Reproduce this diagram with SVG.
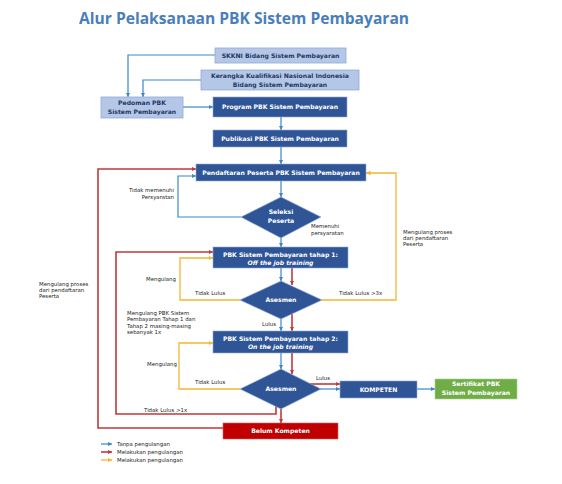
<svg xmlns="http://www.w3.org/2000/svg" width="562" height="484" viewBox="0 0 562 484">
<style>
.title{font-family:"Open Sans","DejaVu Sans",sans-serif;font-weight:bold;font-size:15.6px;fill:#4a7ebb}
.lb{fill:#b4c7e7;stroke:#8faadc;stroke-width:0.8}
.db{fill:#2f5597;stroke:#8faadc;stroke-width:0.6}
.gb{fill:#70ad47;stroke:#a9d18e;stroke-width:0.6}
.rb{fill:#c00000;stroke:#e06060;stroke-width:0.6}
.t{font-family:"DejaVu Sans",Verdana,sans-serif;font-weight:bold;font-size:6.1px;text-anchor:middle}
.tl{fill:#1f3864}
.tw{fill:#ffffff}
.it{font-style:italic}
.s{font-family:"DejaVu Sans",Verdana,sans-serif;font-size:5.4px;fill:#222}
.cb{fill:none;stroke:#3a87c8;stroke-width:1.2}
.cr{fill:none;stroke:#c0393b;stroke-width:1.6}
.cy{fill:none;stroke:#f2b632;stroke-width:1.3}
</style>
<defs>
<marker id="ab" viewBox="0 0 6 6" refX="6" refY="3" markerWidth="4.5" markerHeight="4.5" markerUnits="userSpaceOnUse" orient="auto"><path d="M0,0 L6,3 L0,6 z" fill="#3a87c8"/></marker>
<marker id="ar" viewBox="0 0 6 6" refX="6" refY="3" markerWidth="4.5" markerHeight="4.5" markerUnits="userSpaceOnUse" orient="auto"><path d="M0,0 L6,3 L0,6 z" fill="#c0393b"/></marker>
<marker id="ay" viewBox="0 0 6 6" refX="6" refY="3" markerWidth="4.5" markerHeight="4.5" markerUnits="userSpaceOnUse" orient="auto"><path d="M0,0 L6,3 L0,6 z" fill="#f2b632"/></marker>
</defs>
<rect width="562" height="484" fill="#ffffff"/>
<text class="title" x="79" y="24">Alur Pelaksanaan PBK Sistem Pembayaran</text>

<g id="connectors">
<path class="cb" marker-end="url(#ab)" d="M215,55 H128 V97"/>
<path class="cb" marker-end="url(#ab)" d="M201,80 H143 V97"/>
<path class="cb" marker-end="url(#ab)" d="M183,107 H213"/>
<path class="cb" marker-end="url(#ab)" d="M281,117 V130"/>
<path class="cb" marker-end="url(#ab)" d="M281,147 V164"/>
<path class="cb" marker-end="url(#ab)" d="M281,181 V197"/>
<path class="cb" marker-end="url(#ab)" d="M241,217 H178 V176 H196"/>
<path class="cb" marker-end="url(#ab)" d="M281,238 V247"/>
<path class="cb" marker-end="url(#ab)" d="M281,268 V281"/>
<path class="cb" marker-end="url(#ab)" d="M281,319 V331"/>
<path class="cb" marker-end="url(#ab)" d="M281,353 V369"/>
<path class="cb" marker-end="url(#ab)" d="M320,389 H340"/>
<path class="cb" marker-end="url(#ab)" d="M417,389 H435"/>
<path class="cr" marker-end="url(#ar)" d="M223,428 H98 V169 H196"/>
<path class="cr" marker-end="url(#ar)" d="M276,406 V414 H116 V252 H213"/>
<path class="cr" marker-end="url(#ar)" d="M292,268 V285"/>
<path class="cr" marker-end="url(#ar)" d="M292,314 V331"/>
<path class="cr" marker-end="url(#ar)" d="M292,353 V374"/>
<path class="cr" marker-end="url(#ar)" d="M310,384 H340"/>
<path class="cr" marker-end="url(#ar)" d="M281,409 V423"/>
<path class="cy" marker-end="url(#ay)" d="M240,300 H180 V258 H213"/>
<path class="cy" marker-end="url(#ay)" d="M322,300 H396 V173 H366"/>
<path class="cy" marker-end="url(#ay)" d="M240,389 H179 V343 H213"/>
</g>

<g id="skkni"><rect class="lb" x="215" y="48" width="131" height="15"/><text class="t tl" x="280.5" y="57.8">SKKNI Bidang Sistem Pembayaran</text></g>
<g id="kerangka"><rect class="lb" x="201" y="70" width="158" height="20"/><text class="t tl" x="280" y="78.2">Kerangka Kualifikasi Nasional Indonesia</text><text class="t tl" x="280" y="86.9">Bidang Sistem Pembayaran</text></g>
<g id="pedoman"><rect class="lb" x="101" y="97" width="82" height="21"/><text class="t tl" x="142" y="104.9">Pedoman PBK</text><text class="t tl" x="142" y="113.5">Sistem Pembayaran</text></g>
<g id="program"><rect class="db" x="213" y="97" width="134" height="20"/><text class="t tw" x="280" y="109.2">Program PBK Sistem Pembayaran</text></g>
<g id="publikasi"><rect class="db" x="213" y="130" width="134" height="17"/><text class="t tw" x="280" y="140.7">Publikasi PBK Sistem Pembayaran</text></g>
<g id="pendaftaran"><rect class="db" x="196" y="164" width="170" height="17"/><text class="t tw" x="281" y="174.7">Pendaftaran Peserta PBK Sistem Pembayaran</text></g>
<g id="seleksi"><path class="db" d="M241,217 L281,197 L321,217 L281,238 z"/><text class="t tw" x="281" y="214.2">Seleksi</text><text class="t tw" x="281" y="222.5">Peserta</text></g>
<g id="tahap1"><rect class="db" x="213" y="247" width="135" height="21"/><text class="t tw" x="280.5" y="256.5">PBK Sistem Pembayaran tahap 1:</text><text class="t tw it" x="280.5" y="264.9">Off the job training</text></g>
<g id="asesmen1"><path class="db" d="M240,300 L281,281 L322,300 L281,319 z"/><text class="t tw" x="281" y="302.2">Asesmen</text></g>
<g id="tahap2"><rect class="db" x="213" y="331" width="135" height="22"/><text class="t tw" x="280.5" y="340.5">PBK Sistem Pembayaran tahap 2:</text><text class="t tw it" x="280.5" y="348.9">On the job training</text></g>
<g id="asesmen2"><path class="db" d="M240,389 L281,369 L321,389 L281,409 z"/><text class="t tw" x="281" y="391.2">Asesmen</text></g>
<g id="kompeten"><rect class="db" x="340" y="381" width="77" height="17"/><text class="t tw" x="378.5" y="391.7">KOMPETEN</text></g>
<g id="sertifikat"><rect class="gb" x="435" y="379" width="82" height="20"/><text class="t tw" x="476" y="386.2">Sertifikat PBK</text><text class="t tw" x="476" y="394.9">Sistem Pembayaran</text></g>
<g id="belum"><rect class="rb" x="223" y="423" width="115" height="16"/><text class="t tw" x="280.5" y="433.2">Belum Kompeten</text></g>

<g id="labels">
<text class="s" x="174" y="192" text-anchor="end">Tidak memenuhi</text>
<text class="s" x="174" y="198.5" text-anchor="end">Persyaratan</text>
<text class="s" x="311" y="228">Memenuhi</text>
<text class="s" x="311" y="234.5">persyaratan</text>
<text class="s" x="403" y="234">Mengulang proses</text>
<text class="s" x="403" y="240">dari pendaftaran</text>
<text class="s" x="403" y="246">Peserta</text>
<text class="s" x="39" y="286">Mengulang proses</text>
<text class="s" x="39" y="292">dari pendaftaran</text>
<text class="s" x="39" y="298">Peserta</text>
<text class="s" x="146" y="281">Mengulang</text>
<text class="s" x="195" y="295">Tidak Lulus</text>
<text class="s" x="339" y="295">Tidak Lulus  &gt;3x</text>
<text class="s" x="127" y="315">Mengulang PBK Sistem</text>
<text class="s" x="127" y="321.3">Pembayaran Tahap 1 dan</text>
<text class="s" x="127" y="327.6">Tahap 2 masing-masing</text>
<text class="s" x="127" y="334">sebanyak 1x</text>
<text class="s" x="262" y="326">Lulus</text>
<text class="s" x="147" y="366">Mengulang</text>
<text class="s" x="195" y="384">Tidak Lulus</text>
<text class="s" x="316" y="380">Lulus</text>
<text class="s" x="144" y="412">Tidak Lulus  &gt;1x</text>
</g>

<g id="legend">
<path class="cb" marker-end="url(#ab)" d="M101,444 H112"/>
<path class="cr" marker-end="url(#ar)" d="M101,452 H112"/>
<path class="cy" marker-end="url(#ay)" d="M101,460 H112"/>
<text class="s" x="117" y="446">Tanpa pengulangan</text>
<text class="s" x="117" y="454">Melakukan pengulangan</text>
<text class="s" x="117" y="462">Melakukan pengulangan</text>
</g>
</svg>
